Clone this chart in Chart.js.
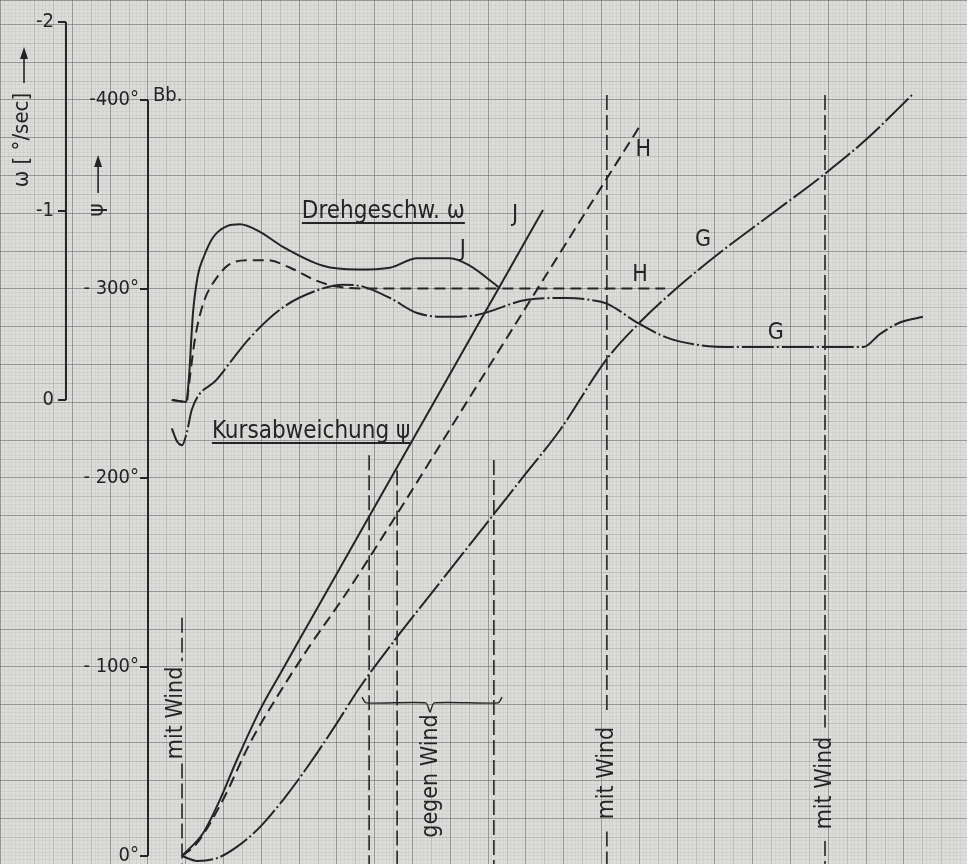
<!DOCTYPE html>
<html>
<head>
<meta charset="utf-8">
<script src="https://cdn.jsdelivr.net/npm/chart.js@4.4.0/dist/chart.umd.min.js"></script>
<style>
html, body { margin: 0; padding: 0; background: #dcdcda; }
#wrap { width: 967px; height: 864px; }
</style>
</head>
<body>
<div id="wrap"><canvas id="chart"></canvas></div>
<script>
// x = time in grid cells from the psi axis, psi in degrees, omega in deg/sec
const omegaJ = [[0.63,0],[1.01,0.01],[1.08,-0.11],[1.19,-0.46],[1.32,-0.66],[1.46,-0.75],[1.72,-0.86],[2.09,-0.92],[2.43,-0.93],[2.96,-0.89],[3.57,-0.81],[4.63,-0.71],[5.53,-0.69],[6.40,-0.70],[7.12,-0.75],[7.99,-0.75],[8.52,-0.71],[9.13,-0.62],[9.31,-0.59]];
const omegaH = [[0.63,0],[1.03,0.01],[1.06,-0.04],[1.24,-0.32],[1.46,-0.51],[1.83,-0.65],[2.17,-0.72],[2.70,-0.74],[3.15,-0.74],[3.76,-0.70],[4.47,-0.63],[5.00,-0.60],[5.79,-0.59],[13.68,-0.59]];
const omegaG = [[0.63,0.15],[0.77,0.22],[0.90,0.24],[1.03,0.17],[1.16,0.05],[1.83,-0.11],[2.70,-0.33],[3.57,-0.49],[4.47,-0.58],[5.16,-0.61],[5.69,-0.60],[6.40,-0.54],[7.12,-0.46],[7.99,-0.44],[8.70,-0.45],[10.03,-0.53],[11.08,-0.54],[11.69,-0.53],[12.14,-0.51],[12.94,-0.41],[13.73,-0.33],[14.60,-0.29],[15.48,-0.28],[16.80,-0.28],[18.92,-0.28],[19.37,-0.35],[19.89,-0.41],[20.50,-0.44]];

const psiJ = [[0.90,0],[1.46,-12.2],[1.90,-29.6],[2.35,-50.8],[2.96,-77.2],[3.57,-99],[4.29,-124.5],[5.79,-177.5],[7.72,-245.5],[9.18,-297],[10.45,-341.8]];
const psiH = [[0.90,0],[1.30,-6.9],[1.98,-29.6],[2.70,-59.8],[3.41,-84.1],[4.29,-111.5],[5.16,-136.5],[6.59,-181],[8.44,-240.4],[11.16,-327.4],[13.02,-386.5]];
const psiG = [[0.90,0],[1.30,2.6],[1.83,1.1],[2.35,-4.8],[2.96,-15.3],[3.57,-29.6],[4.29,-49.2],[5.00,-70.4],[5.61,-89.4],[6.59,-115.9],[7.46,-138],[8.33,-160.1],[9.13,-180.4],[9.92,-200.5],[10.90,-225.4],[12.14,-263],[13.02,-282.5],[13.99,-300.5],[15.05,-318],[16.53,-340.2],[17.91,-361],[19.02,-379.5],[20.21,-402.6]];

// wind marker lines: time, and the psi spans where the line is drawn
const windT = [0.90, 5.85, 6.59, 9.15, 12.14, 17.91];
const windSpans = [[[-126,-103],[-49,5]], [[-212,5]], [[-204,5]], [[-209.5,5]], [[-402.6,-75.7],[-13,5]], [[-402.6,-68],[-8,5]]];
const windLabels = ['mit Wind', 'gegen Wind', 'mit Wind', 'mit Wind'];
const windLabelPos = [[0.74,-75.7],[7.49,-42.3],[12.14,-43.9],[17.91,-38.6]];
const braceGegen = [[5.66,-84.1],[5.77,-81],[7.35,-81],[7.46,-76.2],[7.57,-81],[9.26,-81],[9.37,-84.1]];

const curveLabels = ['J', 'J', 'H', 'H', 'G', 'G'];
const curveLabelPos = [[8.33,-320.6],[9.71,-339.2],[13.10,-373.5],[13.02,-307.4],[14.68,-325.9],[16.61,-276.7]];

const omegaTicks = [0, -1, -2];
const omegaTickLabels = ['0', '-1', '-2'];
const psiTicks = [0, -100, -200, -300, -400];
const psiTickLabels = ['0°', '- 100°', '- 200°', '- 300°', '-400°'];

const ink = '#242424';
const fam = '"DejaVu Sans Condensed", "Liberation Sans Narrow", "DejaVu Sans", sans-serif';

function pts(arr) { return arr.map(p => ({x: p[0], y: p[1]})); }

function curve(arr, axis, dash) {
    return {data: pts(arr), yAxisID: axis, borderColor: ink, borderWidth: 2, borderDash: dash,
        pointRadius: 0, cubicInterpolationMode: 'monotone', fill: false};
}

var datasets = [
    curve(omegaJ, 'yw', []),
    curve(omegaH, 'yw', [11, 6]),
    curve(omegaG, 'yw', [32, 3, 2, 3]),
    curve(psiJ, 'y', []),
    curve(psiH, 'y', [11, 6]),
    curve(psiG, 'y', [32, 3, 2, 3])
];

windT.forEach((t, i) => {
    var d = [];
    windSpans[i].forEach(s => { d.push({x: t, y: s[0]}, {x: t, y: s[1]}, {x: t, y: null}); });
    datasets.push({data: d, yAxisID: 'y', borderColor: ink, borderWidth: 1.6, borderDash: [15, 5],
        pointRadius: 0, spanGaps: false, tension: 0});
});

datasets.push({data: pts(braceGegen), yAxisID: 'y', borderColor: ink, borderWidth: 1.4,
    pointRadius: 0, tension: 0.2});

//graph paper grid scales
function gridScale(axis, pos, min, max, step, color, z, reverse) {
    return {type: 'linear', axis: axis, position: pos, min: min, max: max, reverse: !!reverse,
        ticks: {display: false, stepSize: step, autoSkip: false},
        grid: {color: color, lineWidth: 1, drawTicks: false, z: z},
        border: {display: false}};
}
const xMin = -3.9153, xMax = 21.6667;
const psiMin = -452.91, psiMax = 4.233;

const drawingPlugin = {
    id: 'drawing',
    afterDatasetsDraw(chart) {
        const ctx = chart.ctx, s = chart.scales;
        const X = v => s.x.getPixelForValue(v);
        const P = v => s.y.getPixelForValue(v);
        const W = v => s.yw.getPixelForValue(v);
        const seg = (x1, y1, x2, y2) => { ctx.beginPath(); ctx.moveTo(x1, y1); ctx.lineTo(x2, y2); ctx.stroke(); };
        const upArrow = (x, y0, y1) => {
            seg(x, y0, x, y1 + 6);
            ctx.beginPath(); ctx.moveTo(x, y1); ctx.lineTo(x - 4, y1 + 12); ctx.lineTo(x + 4, y1 + 12); ctx.closePath(); ctx.fill();
        };
        const vText = (str, x, y, font) => {
            ctx.save(); ctx.translate(x, y); ctx.rotate(-Math.PI / 2);
            ctx.font = font; ctx.textAlign = 'center'; ctx.textBaseline = 'middle';
            ctx.fillText(str, 0, 0); ctx.restore();
        };
        ctx.save();
        ctx.strokeStyle = ink; ctx.fillStyle = ink; ctx.lineWidth = 2;

        //omega axis
        const ax = X(-2.17);
        seg(ax, W(-2), ax, W(0));
        ctx.font = '20px ' + fam; ctx.textAlign = 'right'; ctx.textBaseline = 'middle';
        omegaTicks.forEach((v, i) => { seg(ax - 8, W(v), ax, W(v)); ctx.fillText(omegaTickLabels[i], ax - 12, W(v)); });

        //psi axis
        const px = X(0);
        seg(px, P(-400), px, P(0));
        psiTicks.forEach((v, i) => { seg(px - 8, P(v), px, P(v)); ctx.fillText(psiTickLabels[i], px - 9, P(v)); });
        ctx.textAlign = 'left';
        ctx.fillText('Bb.', X(0.13), P(-402.1));

        //axis titles
        vText('ω [ °/sec]', X(-3.33), P(-378.8), '22px ' + fam);
        ctx.lineWidth = 1.6;
        upArrow(X(-3.28), P(-409), P(-428));
        vText('ψ', X(-1.35), P(-341.8), '22px ' + fam);
        upArrow(X(-1.32), P(-350.8), P(-370.9));

        //wind notes
        windLabels.forEach((str, i) => vText(str, X(windLabelPos[i][0]), P(windLabelPos[i][1]), '23px ' + fam));

        //curve names
        ctx.font = '23px ' + fam; ctx.textAlign = 'center'; ctx.textBaseline = 'middle';
        curveLabels.forEach((str, i) => ctx.fillText(str, X(curveLabelPos[i][0]), P(curveLabelPos[i][1])));

        //underlined captions
        ctx.textAlign = 'left'; ctx.textBaseline = 'alphabetic'; ctx.font = '24px ' + fam;
        ctx.lineWidth = 2;
        [['Drehgeschw. ω', 4.07, -337.6], ['Kursabweichung ψ', 1.69, -221.2]].forEach(c => {
            const x = X(c[1]), y = P(c[2]);
            ctx.fillText(c[0], x, y);
            seg(x, y + 5, x + ctx.measureText(c[0]).width, y + 5);
        });
        ctx.restore();
    }
};

new Chart(document.getElementById('chart'), {
    type: 'line',
    data: {datasets: datasets},
    options: {
        responsive: true,
        maintainAspectRatio: false,
        animation: false,
        layout: {padding: 0},
        plugins: {legend: {display: false}, tooltip: {enabled: false}},
        scales: {
            xf: gridScale('x', 'bottom', xMin, xMax, 0.1, 'rgba(120,120,120,0.09)', -3),
            yf: gridScale('y', 'left', psiMin, psiMax, 2, 'rgba(120,120,120,0.09)', -3, true),
            xm: gridScale('x', 'bottom', xMin, xMax, 0.5, 'rgba(110,110,110,0.2)', -2),
            ym: gridScale('y', 'left', psiMin, psiMax, 10, 'rgba(110,110,110,0.2)', -2, true),
            x: gridScale('x', 'bottom', xMin, xMax, 1, 'rgba(90,90,90,0.38)', -1),
            y: gridScale('y', 'left', psiMin, psiMax, 20, 'rgba(90,90,90,0.38)', -1, true),
            yw: {type: 'linear', display: false, reverse: true, min: -2.1164, max: 2.455}
        }
    },
    plugins: [drawingPlugin]
});
</script>
</body>
</html>
